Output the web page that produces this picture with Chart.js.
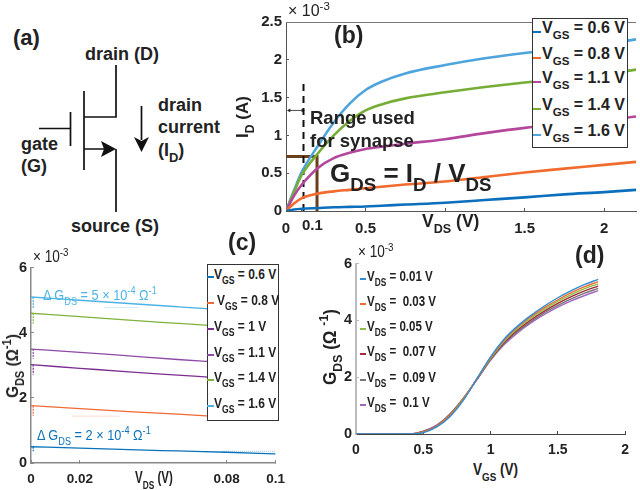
<!DOCTYPE html>
<html>
<head>
<meta charset="utf-8">
<script src="https://cdn.jsdelivr.net/npm/chart.js@4"></script>
<style>
  html, body { margin: 0; background: #fff; }
  #page { position: relative; width: 640px; height: 490px; overflow: hidden; }
  .box { position: absolute; }
  .t { position: absolute; white-space: pre; font-family: "Liberation Sans", Arial, sans-serif; font-weight: bold; color: #222; transform-origin: left center; }
  .t sub, .t sup { font-size: .72em; line-height: 0; }
  .t sub { vertical-align: -.5em; }
  .t sup { vertical-align: .55em; }
  .frame { position: absolute; background: #fff; border: 1px solid #333; box-sizing: border-box; }
  .sw { position: absolute; height: 2px; }
  svg { position: absolute; left: 0; top: 0; }
</style>
</head>
<body>
<div id="page">
  <svg width="240" height="250" fill="none" stroke="#111" stroke-width="1.7">
    <path d="M116 65V117H84M84 91V170M70.5 112V146M39 128.5H70M84 149H104M116 149V212M141.5 106V140"/>
    <path d="M116 149L101 141L104 149L101 157Z" fill="#111" stroke="none"/>
    <path d="M141.5 152L134 137L141.5 141L149 137Z" fill="#111" stroke="none"/>
  </svg>
  <div class="box" id="wrapB" style="left:248px;top:6px;width:392px;height:229px"><canvas id="chartB"></canvas></div>
  <div class="box" id="wrapC" style="left:0;top:252px;width:296px;height:234px"><canvas id="chartC"></canvas></div>
  <div class="box" id="wrapD" style="left:322px;top:248px;width:318px;height:212px"><canvas id="chartD"></canvas></div>
</div>
<script>
// (b) output curves, I_D in units of 1e-3 A
const vdsB = [0, 0.05, 0.1, 0.2, 0.3, 0.4, 0.5, 0.6, 0.75, 1, 1.25, 1.5, 1.75, 2, 2.2];
const idVgs06 = [0, 0.02, 0.03, 0.04, 0.05, 0.055, 0.06, 0.07, 0.085, 0.11, 0.145, 0.18, 0.22, 0.25, 0.28];
const idVgs08 = [0, 0.1, 0.17, 0.23, 0.26, 0.28, 0.3, 0.32, 0.35, 0.39, 0.45, 0.51, 0.56, 0.61, 0.65];
const idVgs11 = [0, 0.2, 0.35, 0.57, 0.7, 0.77, 0.82, 0.85, 0.89, 0.95, 1.03, 1.1, 1.15, 1.2, 1.25];
const idVgs14 = [0, 0.25, 0.48, 0.76, 1.0, 1.19, 1.33, 1.41, 1.49, 1.57, 1.64, 1.7, 1.75, 1.81, 1.87];
const idVgs16 = [0, 0.27, 0.52, 0.86, 1.17, 1.42, 1.6, 1.71, 1.82, 1.93, 2.02, 2.09, 2.15, 2.21, 2.27];
const legendB = ["0.6", "0.8", "1.1", "1.4", "1.6"];
const ticksB = [0, 0.1, 0.5, 1, 1.5, 2];
const brownX = [0, 0.195, 0.195];
const brownY = [0.72, 0.72, 0];
const dashX = [0.11, 0.11];
const dashY = [0, 1.72];
const rangeX = [0.02, 0.105];
const rangeY = [1.33, 1.33];

// (c) G_DS against small V_DS, units of 1e-3 per ohm
const vdsC = [0, 0.02, 0.04, 0.06, 0.08, 0.1];
const gVgs06 = [0.5, 0.46, 0.41, 0.37, 0.33, 0.28];
const gVgs08 = [1.76, 1.67, 1.58, 1.5, 1.41, 1.32];
const gVgs10 = [3.02, 2.91, 2.8, 2.7, 2.6, 2.49];
const gVgs11 = [3.5, 3.4, 3.29, 3.18, 3.08, 2.97];
const gVgs14 = [4.6, 4.5, 4.39, 4.29, 4.19, 4.09];
const gVgs16 = [5.1, 5.0, 4.9, 4.8, 4.7, 4.6];
const startX = [0.0009, 0.0009];
const startLow = [0.36, 1.45, 2.72, 3.2, 4.28, 4.74];
const legendC = ["0.6", "0.8", "1", "1.1", "1.4", "1.6"];
const ticksC = [0, 0.02, 0.08, 0.1];
const faintX1 = [0.03, 0.044];
const faintY1 = [4.78, 4.78];
const faintX2 = [0.017, 0.036];
const faintY2 = [1.44, 1.44];
const faintX3 = [0.078, 0.1];
const faintY3 = [0.36, 0.36];

// (d) transfer curves
const vgsD = [0, 0.4, 0.5, 0.6, 0.7, 0.8, 0.9, 1, 1.1, 1.2, 1.3, 1.4, 1.5, 1.6, 1.7, 1.8];
const gVds001 = [0, 0, 0.05, 0.25, 0.62, 1.2, 1.96, 2.72, 3.34, 3.8, 4.18, 4.51, 4.8, 5.05, 5.27, 5.45];
const gVds003 = [0, 0, 0.06, 0.27, 0.65, 1.23, 1.96, 2.69, 3.3, 3.76, 4.13, 4.45, 4.73, 4.98, 5.19, 5.37];
const gVds005 = [0, 0, 0.07, 0.28, 0.67, 1.25, 1.95, 2.66, 3.26, 3.71, 4.08, 4.39, 4.67, 4.91, 5.12, 5.29];
const gVds007 = [0, 0, 0.08, 0.29, 0.69, 1.26, 1.94, 2.64, 3.22, 3.66, 4.02, 4.33, 4.6, 4.84, 5.04, 5.21];
const gVds009 = [0, 0, 0.09, 0.3, 0.7, 1.27, 1.93, 2.62, 3.18, 3.61, 3.96, 4.27, 4.53, 4.76, 4.96, 5.13];
const gVds010 = [0, 0, 0.1, 0.31, 0.71, 1.27, 1.92, 2.6, 3.14, 3.56, 3.91, 4.21, 4.47, 4.69, 4.88, 5.05];
const legendD = ["0.01", " 0.03", "0.05", " 0.07", " 0.09", " 0.1"];

const colB = ["#0b6fbd", "#f26b2e", "#b4479c", "#76ad35", "#4ea4dc"];
const colC = ["#0a72ba", "#ee6a35", "#7b2d90", "#8d4aa5", "#7fb23c", "#4db3e6"];
const colD = ["#2f8fd6", "#ee6a35", "#8cbf45", "#a62a3c", "#777777", "#a066c0"];

const page = document.getElementById("page");

// squeeze < 1 narrows the text, the reference uses a condensed face in (c) and (d)
function text(html, x, base, size, squeeze, extra) {
  const d = document.createElement("div");
  d.className = "t";
  d.innerHTML = html;
  d.style.left = x + "px";
  d.style.top = (base - size * 0.905) + "px";
  d.style.fontSize = size + "px";
  if (squeeze) d.style.transform = "scaleX(" + squeeze + ")";
  if (extra) Object.assign(d.style, extra);
  page.appendChild(d);
  return d;
}

function vtext(html, cx, cy, size, squeeze) {
  const d = text(html, cx, cy, size);
  d.style.top = cy + "px";
  d.style.transformOrigin = "center";
  d.style.transform = "translate(-50%,-50%) rotate(-90deg) scaleX(" + (squeeze || 1) + ")";
  return d;
}

function swatch(x, y, w, color, h) {
  const s = document.createElement("div");
  s.className = "sw";
  s.style.cssText = "left:" + x + "px;top:" + y + "px;width:" + w + "px;background:" + color + ";height:" + (h || 2) + "px";
  page.appendChild(s);
}

function frame(x, y, w, h) {
  const f = document.createElement("div");
  f.className = "frame";
  f.style.cssText = "left:" + x + "px;top:" + y + "px;width:" + w + "px;height:" + h + "px";
  page.appendChild(f);
}

function pts(xs, ys) {
  return xs.map(function (x, i) { return { x: x, y: ys[i] }; });
}

function curve(label, xs, ys, color, width) {
  return { label: label, data: pts(xs, ys), borderColor: color, borderWidth: width, pointRadius: 0, cubicInterpolationMode: "monotone" };
}

function axis(o) {
  return {
    type: "linear",
    min: o.min,
    max: o.max,
    border: { display: true, color: o.line, width: o.lineWidth || 1 },
    grid: { drawOnChartArea: false, color: o.line, tickLength: -3 },
    ticks: {
      stepSize: o.step,
      autoSkip: false,
      maxRotation: 0,
      padding: o.pad,
      color: "#222",
      font: { family: "'Liberation Sans', Arial, sans-serif", size: o.size, weight: "bold" },
      callback: o.format || function (v) { return String(v); }
    },
    afterBuildTicks: o.list ? function (s) { s.ticks = o.list.map(function (v) { return { value: v }; }); } : undefined,
    afterFit: function (s) {
      if (o.w) s.width = o.w;
      if (o.h) s.height = o.h;
    }
  };
}

function plot(id, datasets, x, y, padding, plugins) {
  return new Chart(document.getElementById(id), {
    type: "line",
    data: { datasets: datasets },
    plugins: plugins || [],
    options: {
      responsive: true,
      maintainAspectRatio: false,
      animation: false,
      layout: { padding: padding },
      plugins: { legend: { display: false }, tooltip: { enabled: false } },
      scales: { x: x, y: y }
    }
  });
}

// top edge of the (b) box
const topEdge = { id: "topEdge", afterDraw: function (c) {
  const a = c.chartArea, g = c.ctx;
  g.save(); g.strokeStyle = "#777"; g.lineWidth = 1;
  g.beginPath(); g.moveTo(a.left, a.top + .5); g.lineTo(a.right, a.top + .5); g.stroke();
  g.restore();
} };

/* panel b */
plot("chartB", [
  curve("VGS 0.6", vdsB, idVgs06, colB[0], 2.6),
  curve("VGS 0.8", vdsB, idVgs08, colB[1], 2.6),
  curve("VGS 1.1", vdsB, idVgs11, colB[2], 2.6),
  curve("VGS 1.4", vdsB, idVgs14, colB[3], 2.6),
  curve("VGS 1.6", vdsB, idVgs16, colB[4], 2.6),
  { label: "range", data: pts(dashX, dashY), borderColor: "#111", borderWidth: 2, borderDash: [7, 5], pointRadius: 0 },
  { label: "span", data: pts(rangeX, rangeY), borderColor: "#222", borderWidth: 0.8, pointStyle: "triangle", pointRadius: 2.2, pointRotation: [-90, 90], pointBackgroundColor: "#222", pointBorderWidth: 0 },
  { label: "operating", data: pts(brownX, brownY), borderColor: "#6b3f1c", borderWidth: 3, pointRadius: 0 }
],
  axis({ min: 0, max: 2.2, list: ticksB, pad: 12, size: 15, line: "#555", h: 24,
         format: function (v) { return (v === 1 || v === 0.1) ? "" : String(v); } }),
  axis({ min: 0, max: 2.5, step: 0.5, pad: 7, size: 15, line: "#555", w: 38 }),
  { top: 15, right: 2 }, [topEdge]);

/* panel c */
const startC = [gVgs06, gVgs08, gVgs10, gVgs11, gVgs14, gVgs16].map(function (g, i) {
  return { label: "start", data: pts(startX, [g[0], startLow[i]]), borderColor: colC[i], borderWidth: 1.2, borderDash: [2, 1], pointRadius: 0 };
});
plot("chartC", [
  curve("VGS 0.6", vdsC, gVgs06, colC[0], 1.3),
  curve("VGS 0.8", vdsC, gVgs08, colC[1], 1.3),
  curve("VGS 1", vdsC, gVgs10, colC[2], 1.3),
  curve("VGS 1.1", vdsC, gVgs11, colC[3], 1.3),
  curve("VGS 1.4", vdsC, gVgs14, colC[4], 1.3),
  curve("VGS 1.6", vdsC, gVgs16, colC[5], 1.3),
  { label: "trace", data: pts(faintX1, faintY1), borderColor: "#a6d8f2", borderWidth: 1, borderDash: [1, 1], pointRadius: 0 },
  { label: "trace", data: pts(faintX2, faintY2), borderColor: "#f5b89f", borderWidth: 1, borderDash: [1, 1], pointRadius: 0 },
  { label: "trace", data: pts(faintX3, faintY3), borderColor: "#8fc0e2", borderWidth: 1, borderDash: [1, 1], pointRadius: 0 }
].concat(startC),
  axis({ min: 0, max: 0.1, list: ticksC, pad: 11, size: 13.5, line: "#888", lineWidth: 1.5, h: 23 }),
  axis({ min: 0, max: 6, step: 2, pad: 7, size: 14.5, line: "#888", lineWidth: 1.5, w: 31 }),
  { top: 15, right: 13 });

/* panel d */
plot("chartD", [
  curve("VDS 0.01", vgsD, gVds001, colD[0], 1.4),
  curve("VDS 0.03", vgsD, gVds003, colD[1], 1.4),
  curve("VDS 0.05", vgsD, gVds005, colD[2], 1.4),
  curve("VDS 0.07", vgsD, gVds007, colD[3], 1.4),
  curve("VDS 0.09", vgsD, gVds009, colD[4], 1.4),
  curve("VDS 0.1", vgsD, gVds010, colD[5], 1.4)
],
  axis({ min: 0, max: 2, step: 0.5, pad: 11, size: 14, line: "#444", h: 26 }),
  axis({ min: 0, max: 6, step: 2, pad: 7, size: 14.5, line: "#bbb", lineWidth: 2, w: 34 }),
  { top: 15, right: 3 });

/* panel a labels */
text("(a)", 13, 45, 22);
text("drain (D)", 85, 60, 18);
text("drain", 158, 111, 18);
text("current", 158, 133, 18);
text("(I<sub>D</sub>)", 158, 156, 18);
text("gate", 21, 150, 18);
text("(G)", 21, 172, 18);
text("source (S)", 71, 232, 18);

/* panel b labels */
text("(b)", 334, 43, 23);
text("\u00d7 10<sup>-3</sup>", 288, 16, 16, 0, { fontWeight: "normal" });
vtext("I<sub>D</sub> (A)", 243, 117, 17);
text("V<sub>DS</sub> (V)", 422, 227, 17.5);
text("0.1", 302, 230, 15);
text("Range used", 310, 124, 18.5);
text("for synapse", 310, 147, 18.5);
text("G<sub>DS</sub> = I<sub>D</sub> / V<sub>DS</sub>", 330, 182, 26);
frame(532, 18, 96, 130);
[33, 59, 83, 110, 136].forEach(function (y, i) {
  swatch(533, y - 2, 8, colB[i]);
  text("V<sub>GS</sub> = " + legendB[i] + " V", 542, y, 16);
});

/* panel c labels */
text("(c)", 228, 250, 23);
text("\u00d7 10<sup>-3</sup>", 33, 262, 16, 0.85, { fontWeight: "normal" });
vtext("G<sub>DS</sub> (\u03a9<sup>-1</sup>)", 13, 366, 17, 0.9);
text("V<sub>DS</sub> (V)", 135, 483, 16, 0.72);
text("\u0394 G<sub>DS</sub> = 5 \u00d7 10<sup>-4</sup> \u03a9<sup>-1</sup>", 43, 300, 15, 0.85, { color: "#4db3e6", fontWeight: "normal" });
text("\u0394 G<sub>DS</sub> = 2 \u00d7 10<sup>-4</sup> \u03a9<sup>-1</sup>", 37, 440, 15, 0.85, { color: "#0a72ba", fontWeight: "normal" });
frame(207, 264, 72, 157);
[279, 305, 331, 357, 382, 408].forEach(function (y, i) {
  swatch(207, y - 3, 7, colC[i], 1.5);
  text("V<sub>GS</sub> = " + legendC[i] + " V", i === 1 ? 217 : 214, y, 15, 0.8);
});

/* panel d labels */
text("(d)", 575, 263, 23);
text("\u00d7 10<sup>-3</sup>", 358, 257, 16, 0.85, { fontWeight: "normal" });
vtext("G<sub>DS</sub> (\u03a9 <sup>-1</sup>)", 330, 347, 18, 0.95);
text("V<sub>GS</sub> (V)", 473, 475, 16, 0.85);
[281, 306, 331, 356, 382, 407].forEach(function (y, i) {
  swatch(360, y - 3, 6, colD[i], 1.5);
  text("V<sub>DS</sub> = " + legendD[i] + " V", 367, y, 15, 0.77);
});
</script>
</body>
</html>
